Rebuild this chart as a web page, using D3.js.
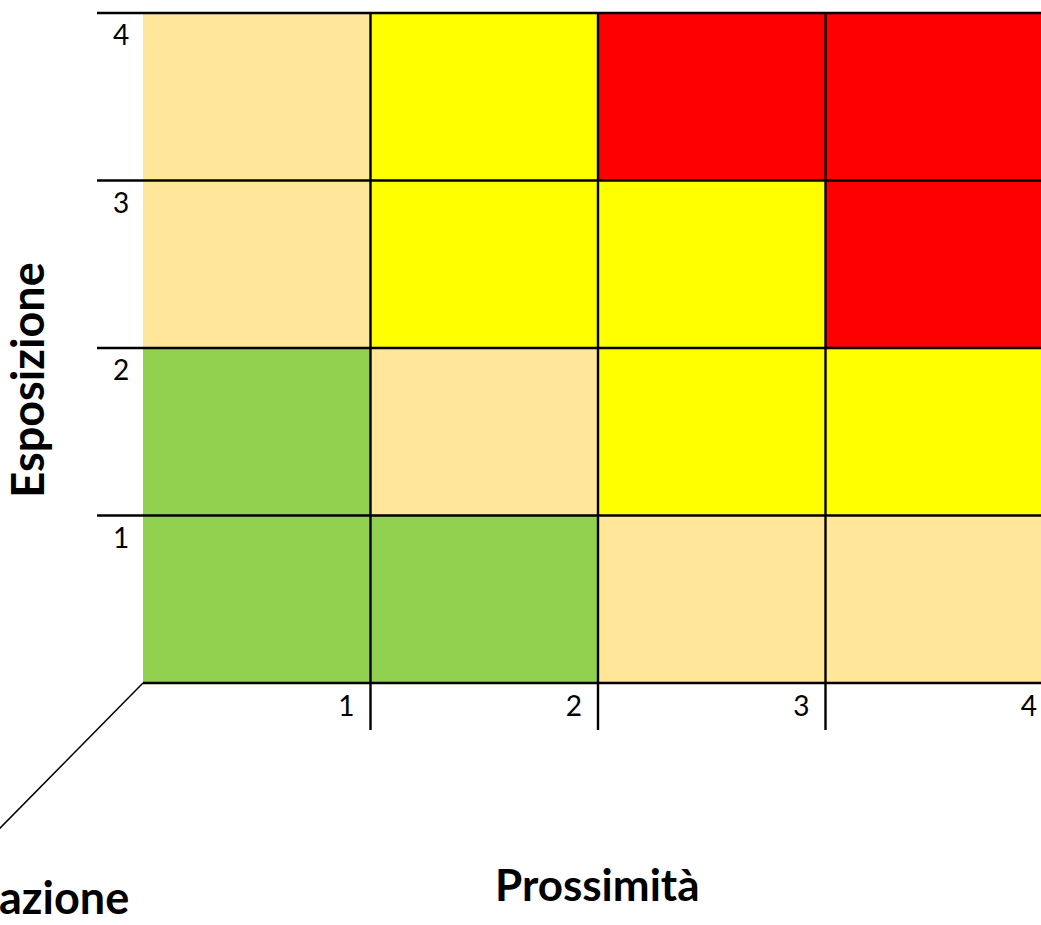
<!DOCTYPE html>
<html>
<head>
<meta charset="utf-8">
<script src="https://cdn.jsdelivr.net/npm/d3@7"></script>
<style>
  html, body { margin: 0; padding: 0; background: #fff; overflow: hidden; }
  svg { display: block; }
</style>
</head>
<body>
<svg id="chart" width="1041" height="925"></svg>
<script>
// ---- data ----
const prossimita = [1, 2, 3, 4];          // columns (x)
const esposizione = [4, 3, 2, 1];         // rows (y), top to bottom
// risk level per cell: row = esposizione (top to bottom), col = prossimita
const livelli = [
  [2, 3, 4, 4],   // Esposizione 4
  [2, 3, 3, 4],   // Esposizione 3
  [1, 2, 3, 3],   // Esposizione 2
  [1, 1, 2, 2]    // Esposizione 1
];
const livelloColori = ["#92D050", "#FFE699", "#FFFF00", "#FF0000"];
const titoloX = "Prossimità";
const titoloY = "Esposizione";
const titoloZ = "azione";

// ---- layout ----
const svg = d3.select("#chart");
const gLeft = 143, gRight = 1053, gTop = 13, gBottom = 683;
const x = d3.scaleBand().domain(prossimita).range([gLeft, gRight]);
const y = d3.scaleBand().domain(esposizione).range([gTop, gBottom]);
const color = d3.scaleOrdinal().domain([1, 2, 3, 4]).range(livelloColori);

const cells = [];
esposizione.forEach((e, r) => prossimita.forEach((p, c) => cells.push({ e, p, v: livelli[r][c] })));

svg.append("g").selectAll("rect").data(cells).join("rect")
  .attr("x", d => x(d.p))
  .attr("y", d => y(d.e))
  .attr("width", x.bandwidth())
  .attr("height", y.bandwidth())
  .attr("fill", d => color(d.v));

const lines = svg.append("g").attr("stroke", "#000").attr("stroke-width", 2.4);
// horizontal row separators (top of each row) extending into label column
lines.selectAll("line.h").data(esposizione).join("line")
  .attr("x1", 97).attr("x2", gRight)
  .attr("y1", d => y(d)).attr("y2", d => y(d));
// bottom line
lines.append("line").attr("x1", gLeft).attr("x2", gRight).attr("y1", gBottom).attr("y2", gBottom);
// vertical column separators (right of columns 1..3) extending into tick area
lines.selectAll("line.v").data(prossimita.slice(0, 3)).join("line")
  .attr("x1", d => x(d) + x.bandwidth()).attr("x2", d => x(d) + x.bandwidth())
  .attr("y1", gTop).attr("y2", 730);

// diagonal depth axis
svg.append("line")
  .attr("x1", gLeft).attr("y1", gBottom)
  .attr("x2", gLeft - 200).attr("y2", gBottom + 203)
  .attr("stroke", "#000").attr("stroke-width", 1.5);

const font = "Lato, 'Open Sans', sans-serif";

// row labels
svg.append("g").selectAll("text").data(esposizione).join("text")
  .attr("x", 113).attr("y", d => y(d) + 32)
  .attr("font-family", font).attr("font-size", 28).attr("fill", "#000")
  .text(d => d);

// column labels
svg.append("g").selectAll("text").data(prossimita).join("text")
  .attr("x", d => x(d) + x.bandwidth() - 16).attr("y", gBottom + 33)
  .attr("text-anchor", "end")
  .attr("font-family", font).attr("font-size", 28).attr("fill", "#000")
  .text(d => d);

// titles
svg.append("text")
  .attr("x", 495).attr("y", 901)
  .attr("font-family", font).attr("font-weight", "bold").attr("font-size", 44)
  .text(titoloX);

svg.append("text")
  .attr("transform", "translate(44,380) rotate(-90)")
  .attr("text-anchor", "middle")
  .attr("font-family", font).attr("font-weight", "bold").attr("font-size", 45)
  .text(titoloY);

svg.append("text")
  .attr("x", -1).attr("y", 914)
  .attr("font-family", font).attr("font-weight", "bold").attr("font-size", 45)
  .text(titoloZ);
</script>
</body>
</html>
